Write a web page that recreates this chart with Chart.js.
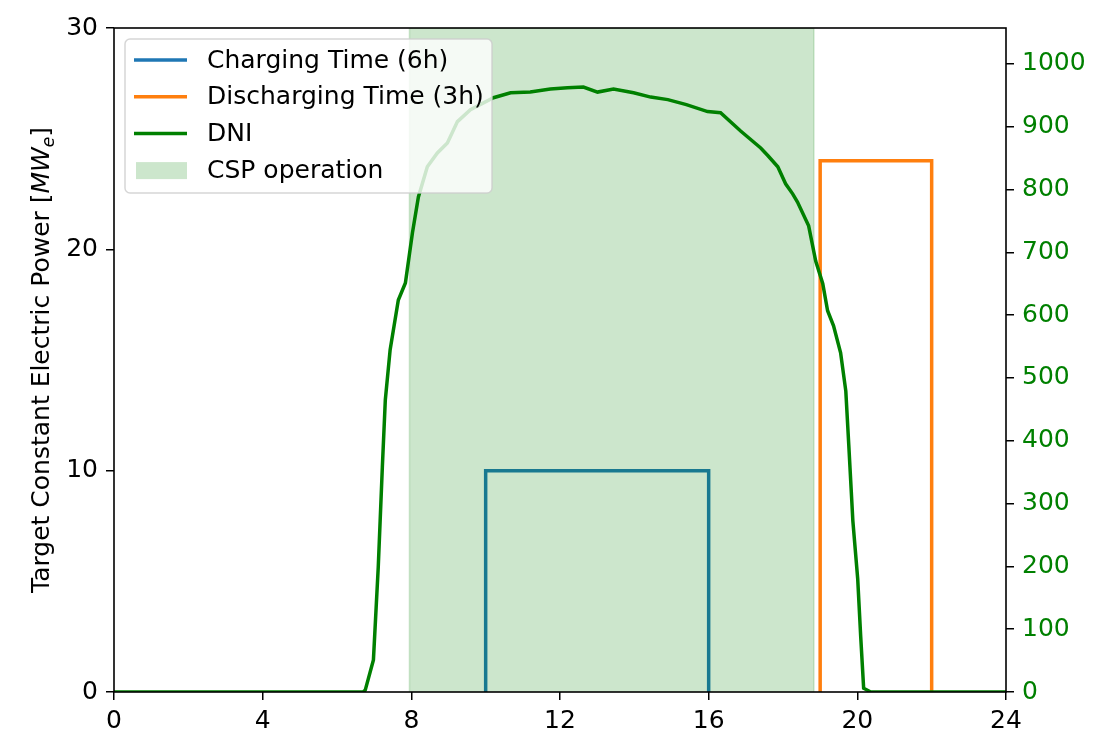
<!DOCTYPE html>
<html>
<head>
<meta charset="utf-8">
<script src="https://cdn.jsdelivr.net/npm/chart.js@4.4.0/dist/chart.umd.min.js"></script>
<style>
html, body { margin: 0; padding: 0; background: #fff; }
</style>
</head>
<body>
<canvas id="powerChart" width="1096" height="738"></canvas>
<script>
// hours of the day
const xTicks = [0, 4, 8, 12, 16, 20, 24];
const leftTicks = [0, 10, 20, 30];
const rightTicks = [0, 100, 200, 300, 400, 500, 600, 700, 800, 900, 1000];

// charging / discharging windows (MW_e)
const chargeHours = [10, 10, 16, 16];
const chargePower = [0, 10, 10, 0];
const dischargeHours = [19, 19, 22, 22];
const dischargePower = [0, 24, 24, 0];

// CSP operation span
const cspStart = 7.95;
const cspEnd = 18.83;

// DNI (W/m2)
const dniHours = [0, 6.70, 6.76, 6.98, 7.11, 7.22, 7.30, 7.43, 7.65, 7.84, 8.03, 8.19, 8.43, 8.70, 8.97, 9.24, 9.59, 10.21, 10.67, 11.20, 11.74, 12.20, 12.63, 13.01, 13.44, 13.98, 14.44, 14.90, 15.40, 15.97, 16.32, 16.86, 17.40, 17.59, 17.86, 18.07, 18.26, 18.39, 18.69, 18.88, 19.07, 19.20, 19.36, 19.55, 19.69, 19.77, 19.88, 20.01, 20.09, 20.17, 20.36, 24];
const dniValues = [0, 0, 3, 51, 199, 358, 465, 545, 624, 651, 731, 788, 836, 858, 874, 908, 927, 946, 954, 955, 960, 962, 963, 955, 960, 954, 947, 943, 935, 924, 922, 893, 866, 854, 836, 809, 793, 780, 742, 686, 650, 607, 583, 540, 479, 393, 272, 180, 89, 6, 0, 0];

const FONT = 'DejaVu Sans';
const SIZE = 25;
const pts = (xs, ys) => xs.map((x, i) => ({ x: x, y: ys[i] }));

const frameAndLegend = {
    id: 'frameAndLegend',
    afterDatasetsDraw(chart) {
        const ctx = chart.ctx;
        const a = chart.chartArea;
        ctx.save();
        ctx.strokeStyle = '#000';
        ctx.lineWidth = 1.6;
        ctx.strokeRect(a.left, a.top, a.right - a.left, a.bottom - a.top);
        ctx.restore();
    },
    afterDraw(chart) {
        const ctx = chart.ctx;
        const a = chart.chartArea;
        ctx.save();

        // legend box
        const bx = 125, by = 39, bw = 367, bh = 154;
        ctx.beginPath();
        ctx.roundRect(bx, by, bw, bh, 5);
        ctx.fillStyle = 'rgba(255,255,255,0.8)';
        ctx.fill();
        ctx.strokeStyle = 'rgba(204,204,204,0.8)';
        ctx.lineWidth = 1.5;
        ctx.stroke();

        const items = [
            { label: 'Charging Time (6h)', color: '#1f77b4', kind: 'line' },
            { label: 'Discharging Time (3h)', color: '#ff7f0e', kind: 'line' },
            { label: 'DNI', color: '#008000', kind: 'line' },
            { label: 'CSP operation', color: 'rgba(0,128,0,0.2)', kind: 'patch' }
        ];
        ctx.font = SIZE + 'px "' + FONT + '"';
        ctx.textBaseline = 'middle';
        items.forEach((it, i) => {
            const y = 60 + i * 36.7;
            if (it.kind === 'line') {
                ctx.strokeStyle = it.color;
                ctx.lineWidth = 3.5;
                ctx.beginPath();
                ctx.moveTo(134, y);
                ctx.lineTo(187, y);
                ctx.stroke();
            } else {
                ctx.fillStyle = it.color;
                ctx.fillRect(136, y - 8, 51, 17);
            }
            ctx.fillStyle = '#000';
            ctx.fillText(it.label, 207, y + 1);
        });

        // left axis title with MW_e
        const parts = [
            { t: 'Target Constant Electric Power [', f: SIZE + 'px "' + FONT + '"', dy: 0 },
            { t: 'MW', f: 'italic ' + SIZE + 'px "' + FONT + '"', dy: 0 },
            { t: 'e', f: 'italic 17px "' + FONT + '"', dy: 5 },
            { t: ']', f: SIZE + 'px "' + FONT + '"', dy: 0 }
        ];
        let total = 0;
        parts.forEach(p => { ctx.font = p.f; p.w = ctx.measureText(p.t).width; total += p.w; });
        ctx.translate(49, (a.top + a.bottom) / 2);
        ctx.rotate(-Math.PI / 2);
        ctx.textBaseline = 'alphabetic';
        ctx.fillStyle = '#000';
        let cx = -total / 2;
        parts.forEach(p => {
            ctx.font = p.f;
            ctx.fillText(p.t, cx, p.dy);
            cx += p.w;
        });
        ctx.restore();
    }
};

new Chart(document.getElementById('powerChart').getContext('2d'), {
    type: 'line',
    data: {
        datasets: [
            {
                label: 'DNI',
                data: pts(dniHours, dniValues),
                yAxisID: 'y2',
                borderColor: '#008000',
                borderWidth: 3.5,
                pointRadius: 0,
                tension: 0,
                fill: false,
                order: 0
            },
            {
                label: 'CSP operation',
                data: pts([cspStart, cspStart, cspEnd, cspEnd], [0, 30, 30, 0]),
                yAxisID: 'y',
                borderColor: 'rgba(0,128,0,0.2)',
                backgroundColor: 'rgba(0,128,0,0.2)',
                borderWidth: 1.5,
                pointRadius: 0,
                fill: 'origin',
                order: 1
            },
            {
                label: 'Discharging Time (3h)',
                data: pts(dischargeHours, dischargePower),
                yAxisID: 'y',
                borderColor: '#ff7f0e',
                borderWidth: 3.5,
                pointRadius: 0,
                fill: false,
                order: 2
            },
            {
                label: 'Charging Time (6h)',
                data: pts(chargeHours, chargePower),
                yAxisID: 'y',
                borderColor: '#1f77b4',
                borderWidth: 3.5,
                pointRadius: 0,
                fill: false,
                order: 3
            }
        ]
    },
    options: {
        responsive: false,
        animation: false,
        devicePixelRatio: 1,
        layout: { padding: { top: 28, left: 0, right: 0, bottom: 0 } },
        plugins: {
            legend: { display: false },
            tooltip: { enabled: false }
        },
        scales: {
            x: {
                type: 'linear',
                min: 0,
                max: 24,
                afterBuildTicks: axis => { axis.ticks = xTicks.map(v => ({ value: v })); },
                afterFit: axis => { axis.height = 46; },
                border: { display: false },
                grid: { drawOnChartArea: false, drawTicks: true, tickLength: 8, color: '#000', lineWidth: 1.5 },
                ticks: { color: '#000', padding: 6, maxRotation: 0, font: { family: FONT, size: SIZE }, callback: v => String(v) }
            },
            y: {
                position: 'left',
                min: 0,
                max: 30,
                afterBuildTicks: axis => { axis.ticks = leftTicks.map(v => ({ value: v })); },
                afterFit: axis => { axis.width = 114; },
                border: { display: false },
                grid: { drawOnChartArea: false, drawTicks: true, tickLength: 8, color: '#000', lineWidth: 1.5 },
                ticks: { color: '#000', padding: 8, font: { family: FONT, size: SIZE }, callback: v => String(v) }
            },
            y2: {
                position: 'right',
                min: 0,
                max: 1057,
                afterBuildTicks: axis => { axis.ticks = rightTicks.map(v => ({ value: v })); },
                afterFit: axis => { axis.width = 90; },
                border: { display: false },
                grid: { drawOnChartArea: false, drawTicks: true, tickLength: 8, color: '#000', lineWidth: 1.5 },
                ticks: { color: '#008000', padding: 8, font: { family: FONT, size: SIZE }, callback: v => String(v) }
            }
        }
    },
    plugins: [frameAndLegend]
});
</script>
</body>
</html>
